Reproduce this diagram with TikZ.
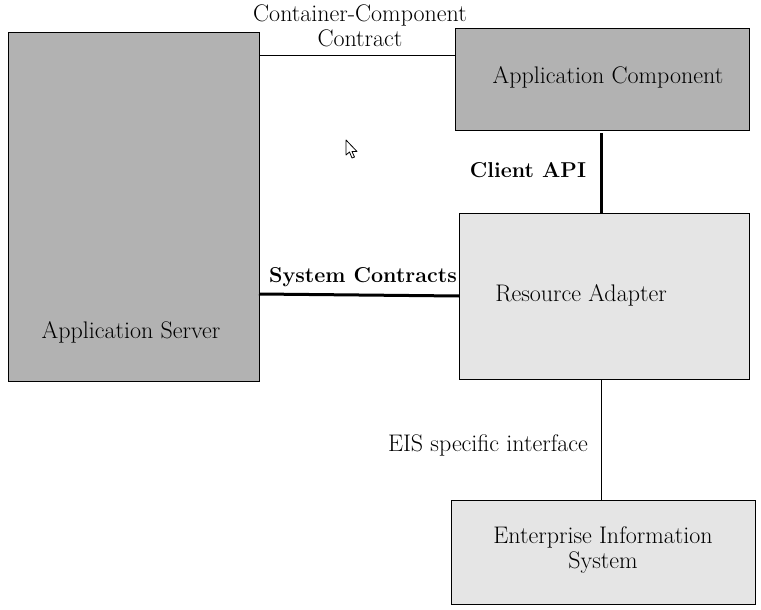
\documentclass[tikz,border=0pt]{standalone}
\usetikzlibrary{positioning}

\definecolor{darkbox}{gray}{0.70}
\definecolor{lightbox}{gray}{0.90}

\tikzset{
  box/.style={draw=black,line width=0.9pt,inner sep=0pt},
  txt/.style={font=\fontsize{24}{25}\selectfont,align=center,inner sep=0pt},
  btxt/.style={font=\fontsize{21.5}{25}\selectfont\bfseries,inner sep=0pt},
  link/.style={draw=black,line width=0.9pt},
  thicklink/.style={draw=black,line width=3pt}
}

\begin{document}
\begin{tikzpicture}[x=1pt,y=-1pt]
\useasboundingbox (0,0) rectangle (761,610);

\node[box,fill=darkbox,minimum width=251pt,minimum height=349pt] (srv) at (133.5,206.5) {};
\node[box,fill=darkbox,minimum width=294pt,minimum height=102pt] (comp) at (602,79) {};
\node[box,fill=lightbox,minimum width=290pt,minimum height=166pt] (ra) at (604,296) {};
\node[box,fill=lightbox,minimum width=304pt,minimum height=104pt] (eis) at (603,552) {};

\node[txt] (srvlbl) at (131,332) {Application Server};
\node[txt] (complbl) at (608,77) {Application Component};
\node[txt] (ralbl) at (581,295) {Resource Adapter};
\node[txt] (eislbl) at (603,550) {Enterprise Information\\System};

% container line
\coordinate (cc) at (259,55);
\draw[link] (cc) -- (cc -| comp.west);
\node[txt] (cclbl) at (360,26) {Container-Component\\Contract};

% client api
\coordinate (ca) at (601,133);
\draw[thicklink] (ca) -- (ca |- ra.north);
\node[btxt] (calbl) at (528,170) {Client API};

% system contracts
\coordinate (sc1) at (259,294);
\coordinate (sc2) at (459,296);
\draw[thicklink] (sc1) -- (sc2);
\node[btxt] (sclbl) at (363,277) {System Contracts};

% eis interface
\coordinate (ei) at (601,379);
\draw[link] (ei) -- (ei |- eis.north);
\node[txt] (eilbl) at (488,445) {EIS specific interface};

% pointer
\draw[fill=white,line width=0.8pt,line join=round] (346,140) -- (346,155) -- (349.5,152) -- (352,158) -- (354.5,157) -- (352,151.5) -- (357,151.5) -- cycle;

\end{tikzpicture}
\end{document}
